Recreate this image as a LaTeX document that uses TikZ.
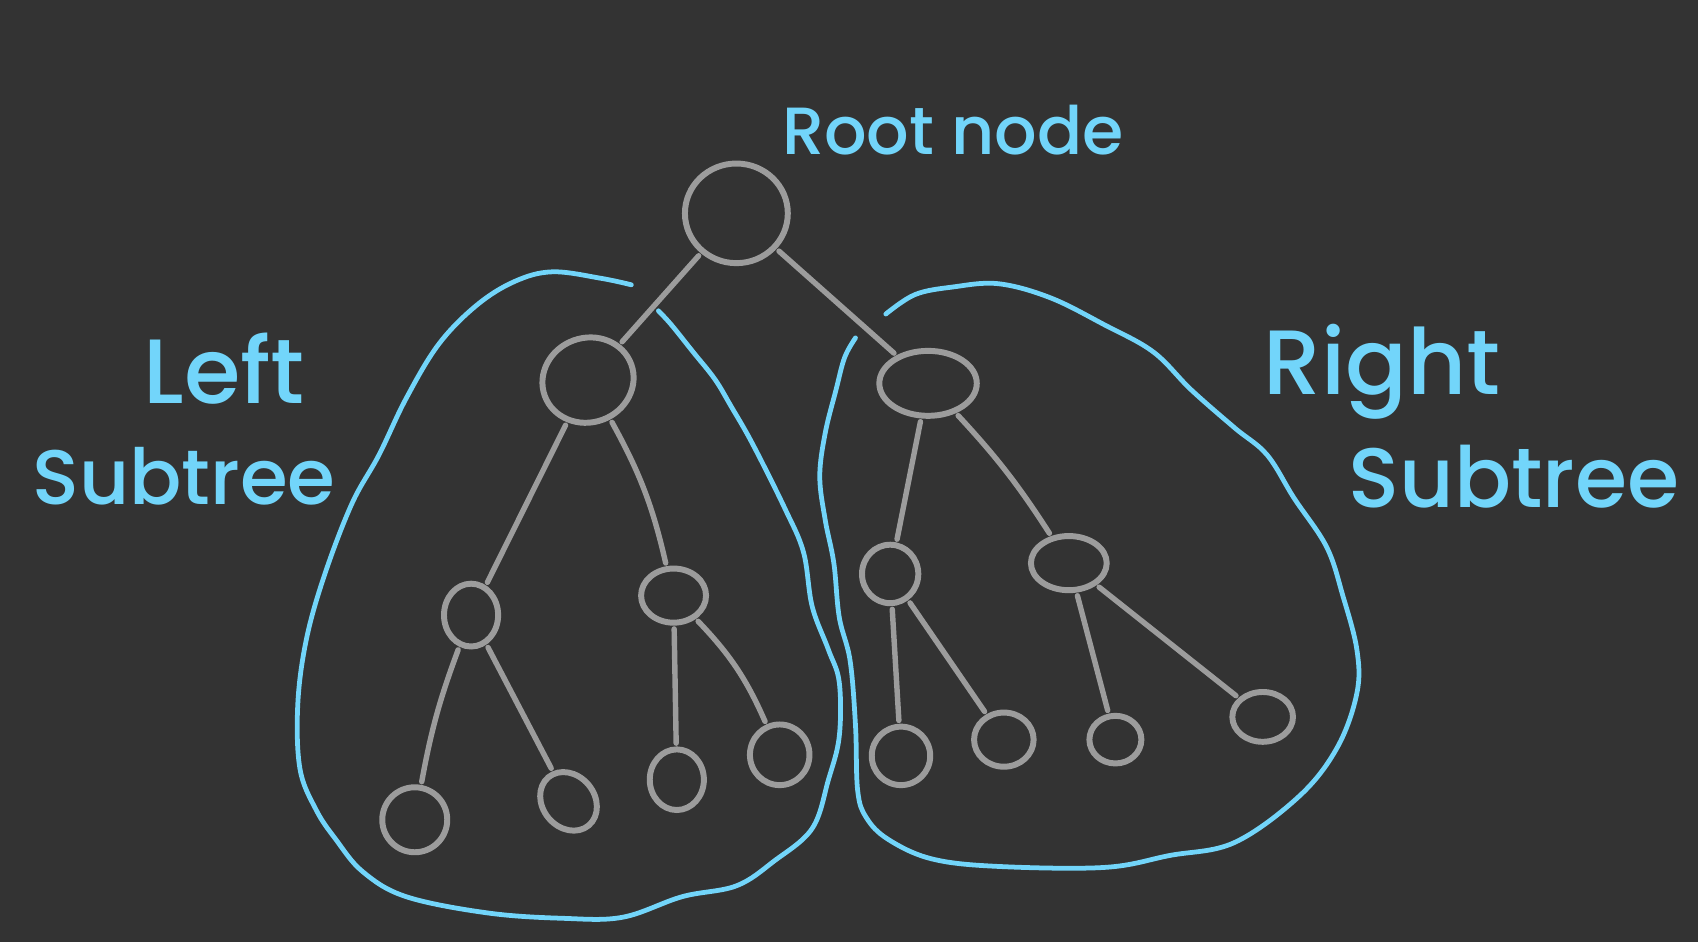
\documentclass[tikz,border=0pt]{standalone}
\usepackage{fontspec}
\setmainfont{Poppins}
\newfontfamily\pmed{Poppins Medium}
\usetikzlibrary{shapes.geometric}
\definecolor{bgc}{HTML}{333333}
\definecolor{greyl}{HTML}{9C9C9C}
\definecolor{bluel}{HTML}{72D5FA}
\newlength\uu
\setlength\uu{0.010829cm}
\begin{document}
\begin{tikzpicture}[x=0.010829cm,y=-0.010829cm,
  blob/.style 2 args={ellipse, draw=greyl, line width=5.5\uu, minimum width=#1\uu, minimum height=#2\uu, inner sep=0pt},
  edge/.style={draw=greyl, line width=5\uu, line cap=round, shorten <=3\uu, shorten >=3\uu},
  hull/.style={draw=bluel, line width=4.4\uu, line cap=round, line join=round},
  lab/.style={text=bluel, inner sep=0pt}]
\fill[bgc] (0,0) rectangle (1568,870);
\useasboundingbox (0,0) rectangle (1568,870);
% nodes
\node[blob={95}{92}] (root) at (680,197) {};
\node[blob={85}{78}, rotate=20] (L) at (543,351) {};
\node[blob={90}{60}] (R) at (857,354) {};
\node[blob={50}{58}] (LL) at (435,568) {};
\node[blob={60}{50}] (LR) at (622,550) {};
\node[blob={52}{54}] (RL) at (822,530) {};
\node[blob={70}{50}] (RR) at (987,520) {};
\node[blob={60}{60}] (LLL) at (383,757) {};
\node[blob={48}{58}, rotate=40] (LLR) at (525,740) {};
\node[blob={50}{56}] (LRL) at (625,720) {};
\node[blob={55}{56}] (LRR) at (720,697) {};
\node[blob={54}{54}] (RLL) at (832,698) {};
\node[blob={55}{50}] (RLR) at (927,683) {};
\node[blob={48}{44}] (RRL) at (1030,683) {};
\node[blob={56}{46}] (RRR) at (1166,662) {};
% edges
\draw[edge] (root) -- (L);
\draw[edge] (root) -- (R);
\draw[edge] (L) -- (LL);
\draw[edge] (L) to[bend left=8] (LR);
\draw[edge] (R) -- (RL);
\draw[edge] (R) to[bend left=5] (RR);
\draw[edge] (LL) to[bend right=5] (LLL);
\draw[edge] (LL) -- (LLR);
\draw[edge] (LR) -- (LRL);
\draw[edge] (LR) to[bend left=10] (LRR);
\draw[edge] (RL) -- (RLL);
\draw[edge] (RL) -- (RLR);
\draw[edge] (RR) -- (RRL);
\draw[edge] (RR) -- (RRR);
% blue outlines
\draw[hull] plot[smooth, tension=0.6] coordinates {(583,263) (555,257) (510,251) (475,260) (440,282) (405,318) (375,368) (350,420) (325,465) (300,530) (283,590) (275,650) (277,710) (292,748) (310,775) (335,805) (375,828) (450,843) (520,848) (575,847) (630,828) (680,818) (715,795) (750,765) (765,720) (775,680) (775,630) (765,600) (750,560) (742,510) (725,470) (695,410) (675,375) (660,350) (640,325) (620,300) (608,287)};
\draw[hull] plot[smooth, tension=0.6] coordinates {(790,312) (780,330) (772,360) (762,400) (757,440) (762,480) (770,520) (775,570) (785,610) (790,670) (792,730) (800,755) (820,775) (860,793) (920,800) (1020,801) (1080,790) (1140,778) (1200,735) (1235,690) (1253,640) (1253,600) (1240,550) (1225,505) (1195,460) (1170,420) (1140,395) (1100,360) (1065,325) (1020,300) (970,275) (922,262) (880,265) (845,272) (818,290)};
% labels
\node[lab, font=\pmed\fontsize{19}{19}\selectfont] (troot) at (880,120) {Root node};
\node[lab, font=\pmed\fontsize{26}{26}\selectfont] (tleft) at (207,340) {Left};
\node[lab, font=\pmed\fontsize{22}{22}\selectfont] (tlsub) at (170,440) {Subtree};
\node[lab, font=\pmed\fontsize{26}{26}\selectfont] (tright) at (1276,343) {Right};
\node[lab, font=\pmed\fontsize{24}{24}\selectfont] (trsub) at (1398,440) {Subtree};
\end{tikzpicture}
\end{document}
